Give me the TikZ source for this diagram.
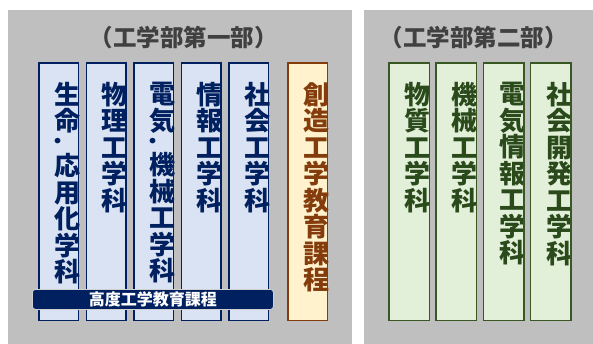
\documentclass[tikz,border=0pt]{standalone}
\usepackage{graphicx}
\usepackage{fontspec}
\setmainfont{Noto Sans CJK JP}
\definecolor{panelgray}{HTML}{BFBFBF}
\definecolor{bluefill}{HTML}{DAE3F3}
\definecolor{blueline}{HTML}{002060}
\definecolor{orfill}{HTML}{FFF2CC}
\definecolor{orline}{HTML}{843C0C}
\definecolor{grfill}{HTML}{E2F0D9}
\definecolor{grline}{HTML}{385723}
\definecolor{grtext}{HTML}{2A4A1B}
\definecolor{titlegray}{HTML}{404040}
\definecolor{bannerline}{HTML}{D0D0D0}
\newcommand{\vdot}{\makebox[26pt][l]{\hspace{0.5pt}\rotatebox{-90}{.}}}
\setlength{\lineskiplimit}{-50pt}
\begin{document}
\begin{tikzpicture}[x=1pt,y=-1pt,
  panel/.style={fill=panelgray, inner sep=0, anchor=north west},
  colbox/.style={inner sep=0, anchor=north west, minimum width=39pt, minimum height=257pt},
  bluebox/.style={colbox, fill=bluefill},
  orbox/.style={colbox, fill=orfill},
  grbox/.style={colbox, fill=grfill, minimum width=40pt},
  blueedge/.style={draw=blueline, line width=1.6pt},
  oredge/.style={draw=orline, line width=1.6pt},
  gredge/.style={draw=grline, line width=1.6pt},
  vt/.style={font=\bfseries\fontsize{26}{26.5}\selectfont, align=center, inner sep=0, anchor=north, text width=26pt},
  title/.style={font=\bfseries\fontsize{23.5}{26}\selectfont, text=titlegray, inner sep=0},
  banner/.style={fill=blueline, draw=bannerline, line width=0.8pt, rounded corners=3pt, inner sep=0, anchor=north west, minimum width=241pt, minimum height=20pt, text=white, font=\bfseries\fontsize{16}{18}\selectfont}
]
\useasboundingbox (0,0) rectangle (593,344);
\fill[white] (0,0) rectangle (593,344);
\node[panel, minimum width=344pt, minimum height=334pt] (p1) at (8,10) {};
\node[panel, minimum width=229pt, minimum height=334pt] (p2) at (364,10) {};
\node[title] (ti1) at (183.5,38) {（工学部第一部）};
\node[title] (ti2) at (473.5,38) {（工学部第二部）};

% first part boxes
\node[bluebox] (b1) at (39,63) {};
\node[bluebox] (b2) at (86.5,63) {};
\node[bluebox] (b3) at (134,63) {};
\node[bluebox] (b4) at (181.5,63) {};
\node[bluebox] (b5) at (229,63) {};
\node[orbox] (o1) at (288,63) {};

\node[vt, text=blueline] (t1) at ([shift={(8.5,19)}]b1.north) {生\\命\\[-20.5pt]\vdot\\[6.5pt]応\\用\\化\\学\\科};
\node[vt, text=blueline] (t2) at ([shift={(8.5,19)}]b2.north) {物\\理\\工\\学\\科};
\node[vt, text=blueline] (t3) at ([shift={(8.5,19)}]b3.north) {電\\気\\[-20.5pt]\vdot\\[6.5pt]機\\械\\工\\学\\科};
\node[vt, text=blueline] (t4) at ([shift={(8.5,19)}]b4.north) {情\\報\\工\\学\\科};
\node[vt, text=blueline] (t5) at ([shift={(8.5,19)}]b5.north) {社\\会\\工\\学\\科};
\node[vt, text=orline] (t6) at ([shift={(8.5,19)}]o1.north) {創\\造\\工\\学\\教\\育\\課\\程};

\draw[blueedge] (b1.north west) rectangle (b1.south east);
\draw[blueedge] (b2.north west) rectangle (b2.south east);
\draw[blueedge] (b3.north west) rectangle (b3.south east);
\draw[blueedge] (b4.north west) rectangle (b4.south east);
\draw[blueedge] (b5.north west) rectangle (b5.south east);
\draw[oredge] (o1.north west) rectangle (o1.south east);

\node[banner] (hb) at (32,289) {高度工学教育課程};

% second part boxes
\node[grbox] (g1) at (389,63) {};
\node[grbox] (g2) at (436,63) {};
\node[grbox] (g3) at (483.5,63) {};
\node[grbox] (g4) at (530.5,63) {};
\node[vt, text=grtext] (u1) at ([shift={(8.5,19)}]g1.north) {物\\質\\工\\学\\科};
\node[vt, text=grtext] (u2) at ([shift={(8.5,19)}]g2.north) {機\\械\\工\\学\\科};
\node[vt, text=grtext] (u3) at ([shift={(8.5,19)}]g3.north) {電\\気\\情\\報\\工\\学\\科};
\node[vt, text=grtext] (u4) at ([shift={(8.5,19)}]g4.north) {社\\会\\開\\発\\工\\学\\科};
\draw[gredge] (g1.north west) rectangle (g1.south east);
\draw[gredge] (g2.north west) rectangle (g2.south east);
\draw[gredge] (g3.north west) rectangle (g3.south east);
\draw[gredge] (g4.north west) rectangle (g4.south east);
\end{tikzpicture}
\end{document}
